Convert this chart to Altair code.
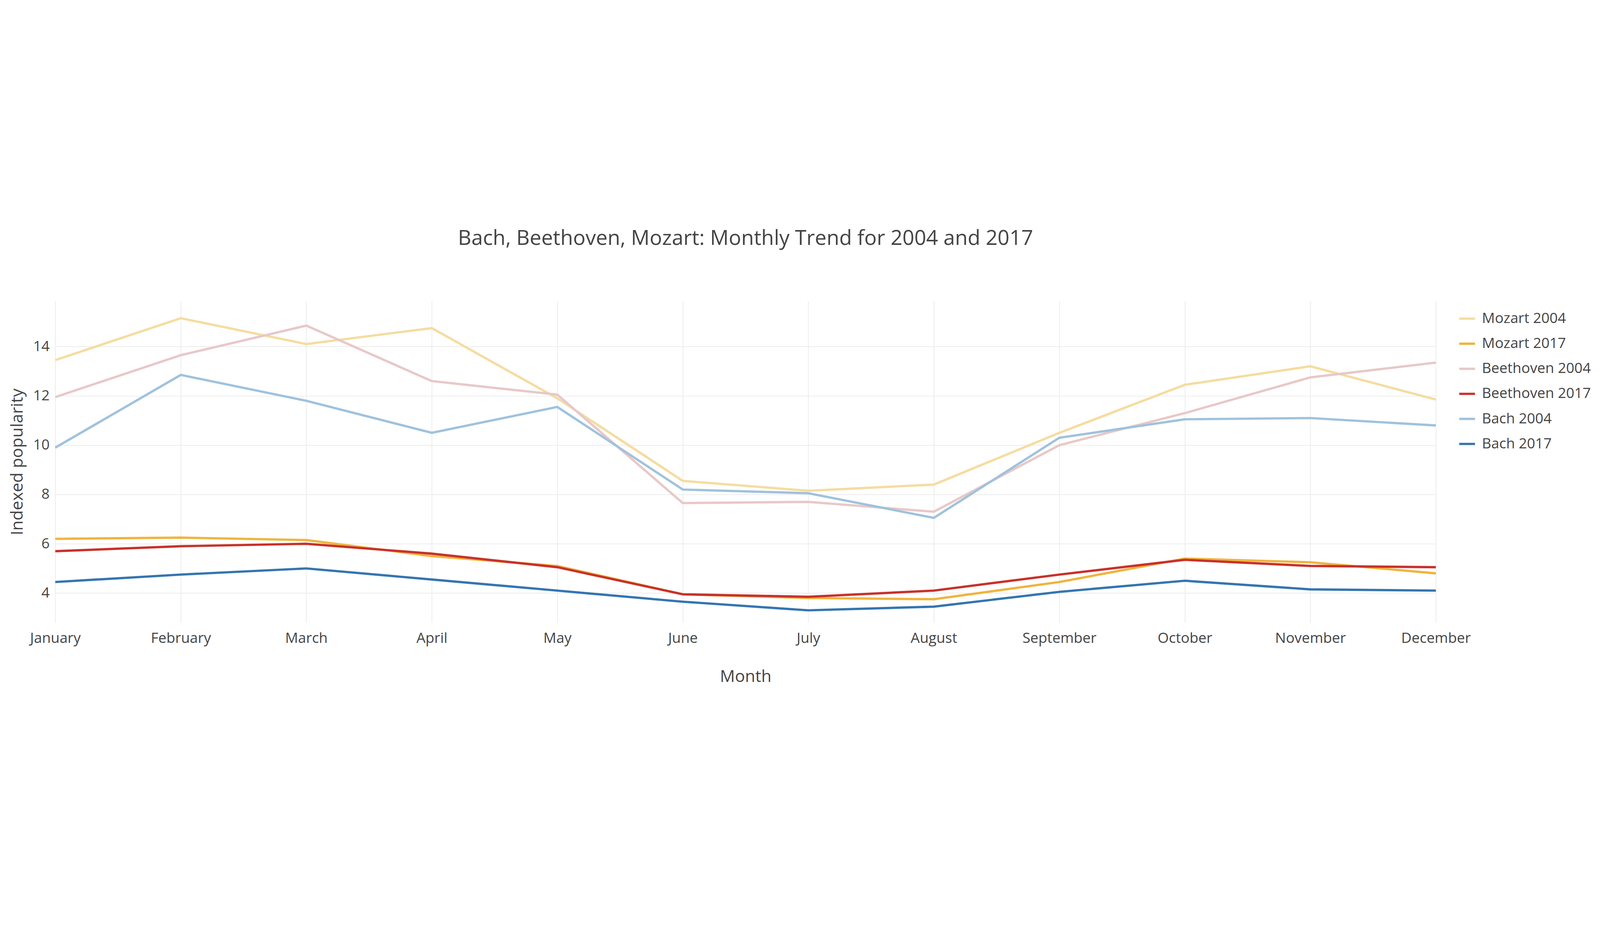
import altair as alt
import pandas as pd

months = ["January","February","March","April","May","June","July","August","September","October","November","December"]
series = ["Mozart 2004","Mozart 2017","Beethoven 2004","Beethoven 2017","Bach 2004","Bach 2017"]
colors = ["#f5dc9f","#f0b43c","#e8c8c8","#c8312a","#9fc2dd","#3475b0"]
mozart_2004 = [13.45,15.15,14.1,14.75,11.9,8.55,8.15,8.4,10.5,12.45,13.2,11.85]
mozart_2017 = [6.2,6.25,6.15,5.5,5.1,3.95,3.8,3.75,4.45,5.4,5.25,4.8]
beethoven_2004 = [11.95,13.65,14.85,12.6,12.05,7.65,7.7,7.3,10.0,11.3,12.75,13.35]
beethoven_2017 = [5.7,5.9,6.0,5.6,5.05,3.95,3.85,4.1,4.75,5.35,5.1,5.05]
bach_2004 = [9.9,12.85,11.8,10.5,11.55,8.2,8.05,7.05,10.3,11.05,11.1,10.8]
bach_2017 = [4.45,4.75,5.0,4.55,4.1,3.65,3.3,3.45,4.05,4.5,4.15,4.1]
vals = [mozart_2004,mozart_2017,beethoven_2004,beethoven_2017,bach_2004,bach_2017]

rows = []
for s, v in zip(series, vals):
    for m, y in zip(months, v):
        rows.append({"Month": m, "Series": s, "Value": y})
df = pd.DataFrame(rows)

font = "Open Sans"
chart = alt.Chart(df).mark_line(strokeWidth=8).encode(
    x=alt.X("Month:N", sort=months, scale=alt.Scale(type="point", padding=0),
            axis=alt.Axis(title="Month", labelAngle=0, grid=True, gridColor="#eeeeee", gridWidth=3,
                          domain=False, ticks=False, labelFontSize=50, titleFontSize=58,
                          labelPadding=30, titlePadding=80, labelColor="#444", titleColor="#444",
                          labelLimit=1000, titleFontWeight="normal", labelFont=font, titleFont=font)),
    y=alt.Y("Value:Q", scale=alt.Scale(domain=[2.8, 15.85], nice=False, zero=False),
            axis=alt.Axis(title="Indexed popularity", values=[4,6,8,10,12,14], gridColor="#eeeeee",
                          gridWidth=3, domain=False, ticks=False, labelFontSize=50, titleFontSize=58,
                          labelPadding=20, titlePadding=25, labelColor="#444", titleColor="#444",
                          titleFontWeight="normal", labelFont=font, titleFont=font)),
    color=alt.Color("Series:N", sort=series, scale=alt.Scale(domain=series, range=colors),
                    legend=alt.Legend(title=None, orient="none", legendX=4870, legendY=30,
                                      labelFontSize=50, labelFont=font, labelColor="#444",
                                      symbolType="stroke", symbolStrokeWidth=8, symbolSize=3000,
                                      rowPadding=30, labelLimit=800, labelOffset=20)),
).properties(
    width=4793, height=1117,
    title=alt.TitleParams("Bach, Beethoven, Mozart: Monthly Trend for 2004 and 2017",
                          fontSize=72, font=font, color="#444", fontWeight="normal",
                          anchor="middle", offset=180),
    autosize=alt.AutoSizeParams(type="pad"),
    padding={"left": 20, "top": 420, "right": 20, "bottom": 20},
).configure_view(stroke=None)

chart.save("out.html", embed_options={"renderer": "svg", "actions": False})
